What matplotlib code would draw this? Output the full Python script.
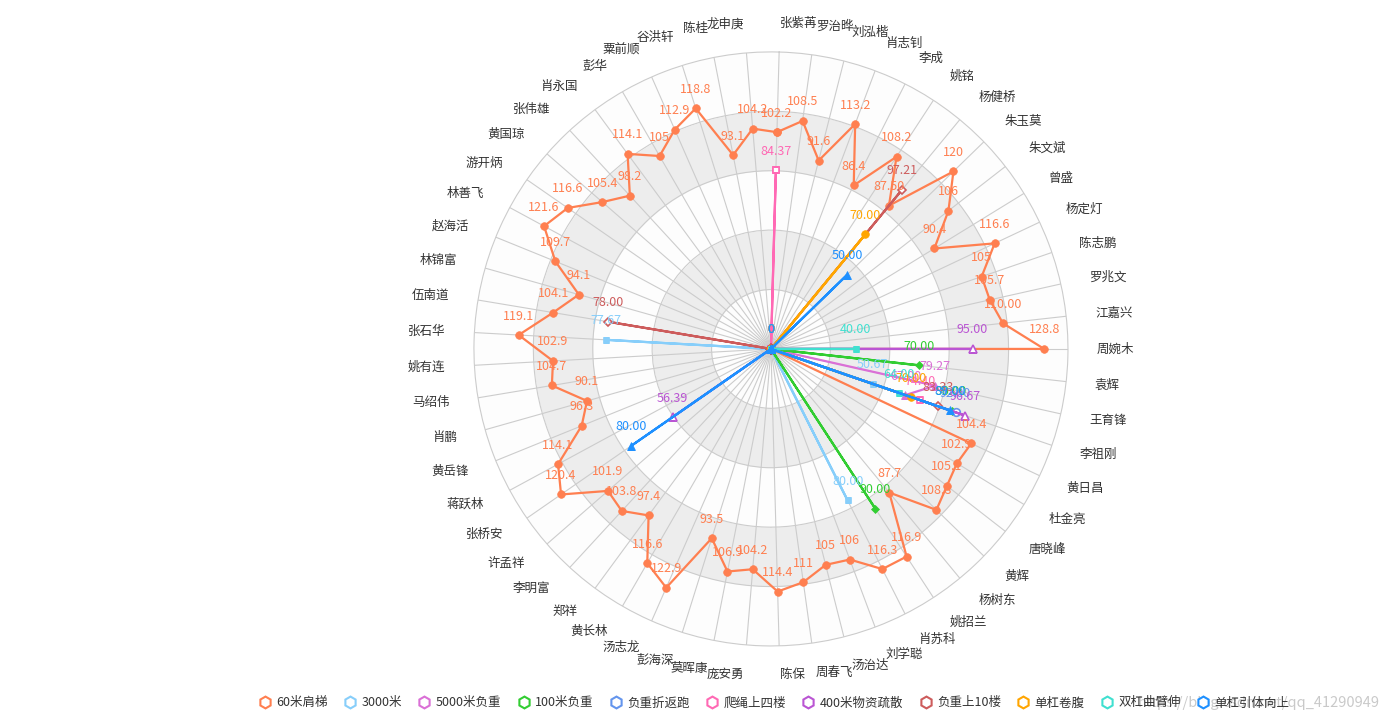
# plot.py
# 体能测试成绩雷达图（仿 ECharts 样式）

import numpy as np
import matplotlib
matplotlib.use('Agg')
import matplotlib.pyplot as plt
from matplotlib.lines import Line2D
plt.rcParams['font.family'] = ['Noto Sans CJK SC', 'DejaVu Sans']

# -----------------数据
names = ['张紫苒', '罗治晔', '刘泓楷', '肖志钊', '李成', '姚铭', '杨健桥', '朱玉莫', '朱文斌', '曾盛',
         '杨定灯', '陈志鹏', '罗兆文', '江嘉兴', '周婉木', '袁辉', '王育锋', '李祖刚', '黄日昌', '杜金亮',
         '唐晓峰', '黄辉', '杨树东', '姚招兰', '肖苏科', '刘学聪', '汤治达', '周春飞', '陈保', '庞安勇',
         '莫晖康', '彭海深', '汤志龙', '黄长林', '郑祥', '李明富', '许孟祥', '张桥安', '蒋跃林', '黄岳锋',
         '肖鹏', '马绍伟', '姚有连', '张石华', '伍南道', '林锦富', '赵海活', '林善飞', '游开炳', '黄国琼',
         '张伟雄', '肖永国', '彭华', '粟前顺', '谷洪轩', '陈桂', '龙申庚']

shoulder60 = ['102.2', '108.5', '91.6', '113.2', '86.4', '108.2', '87.50', '120', '106', '90.4',
              '116.6', '105', '105.7', '110.00', '128.8', '0', '0', '0', '104.4', '102.9',
              '105.1', '108.8', '87.7', '116.9', '116.3', '106', '105', '111', '114.4', '104.2',
              '106.9', '93.5', '122.9', '116.6', '97.4', '103.8', '101.9', '120.4', '114.1', '96.3',
              '90.1', '104.7', '102.9', '119.1', '104.1', '94.1', '109.7', '121.6', '116.6', '105.4',
              '98.2', '114.1', '105', '112.9', '118.8', '93.1', '104.2']
run3000 = {'李祖刚': '50.67', '肖苏科': '80.00', '张石华': '77.67'}
run5000 = {'王育锋': '79.27', '李祖刚': '67.00'}
dash100 = {'袁辉': '70.00', '李祖刚': '90.00', '姚招兰': '90.00'}
shuttle = {'李祖刚': '92.00'}
rope = {'张紫苒': '84.37', '李祖刚': '74.40'}
evac400 = {'周婉木': '95.00', '李祖刚': '96.67', '张桥安': '56.39'}
stairs10 = {'杨健桥': '97.21', '李祖刚': '83.33', '伍南道': '78.00'}
situp = {'杨健桥': '70.00', '李祖刚': '70.00'}
dips = {'周婉木': '40.00', '李祖刚': '64.00'}
pullup = {'朱玉莫': '50.00', '李祖刚': '89.00', '张桥安': '80.00'}

legend_names = ['60米肩梯', '3000米', '5000米负重', '100米负重', '负重折返跑', '爬绳上四楼',
                '400米物资疏散', '负重上10楼', '单杠卷腹', '双杠曲臂伸', '单杠引体向上']
colors = ['#ff7f50', '#87cefa', '#da70d6', '#32cd32', '#6495ed', '#ff69b4',
          '#ba55d3', '#cd5c5c', '#ffa500', '#40e0d0', '#1e90ff']
# ECharts2 默认符号循环：circle, rectangle, triangle, diamond, empty...
markers = [('o', True), ('s', True), ('^', True), ('D', True), ('o', False), ('s', False),
           ('^', False), ('D', False), ('o', True), ('s', True), ('^', True)]
msizes = {'o': 5.5, 's': 5, '^': 6, 'D': 4.2}

n = len(names)
rmax = 140


def spread(d):  # 稀疏字典 -> 完整字符串列表
    v = ['0'] * n
    for k, s in d.items():
        v[names.index(k)] = s
    return v


series = [shoulder60] + [spread(d) for d in
                         [run3000, run5000, dash100, shuttle, rope, evac400, stairs10, situp, dips, pullup]]

# -----------------绘图
fig = plt.figure(figsize=(13.85, 7.21), dpi=100, facecolor='white')
ax = fig.add_axes([0.3422, 0.1041, 0.4289, 0.8239], projection='polar')

theta = np.arange(n) * 2 * np.pi / n
ax.set_theta_direction(-1)
ax.set_theta_offset(theta[names.index('周婉木')])
ax.set_ylim(0, rmax)

# 分隔区域（内白外灰交替）
tt = np.linspace(0, 2 * np.pi, 500)
ring = np.linspace(0, rmax, 6)
for i in range(5):
    c = '#fdfdfd' if i % 2 == 0 else '#ededed'
    ax.fill_between(tt, ring[i], ring[i + 1], color=c, lw=0, zorder=0.5)

ax.set_xticks(theta)
ax.set_xticklabels([])
ax.set_yticks(ring[1:-1])
ax.set_yticklabels([])
ax.tick_params(length=0)
ax.grid(True, color='#cccccc', lw=0.8)
ax.spines['polar'].set_color('#cccccc')
ax.spines['polar'].set_linewidth(0.8)

# 指标名称
for k, name in enumerate(names):
    c = np.cos(ax.get_theta_offset() - theta[k])
    ha = 'left' if c > 0.01 else ('right' if c < -0.01 else 'center')
    ax.text(theta[k], 153.7, name, ha=ha, va='center', fontsize=9, color='#333333', clip_on=False)

tc = np.append(theta, theta[0])
for i, vals in enumerate(series):
    v = np.array([float(s) for s in vals])
    vc = np.append(v, v[0])
    m, filled = markers[i]
    ax.plot(tc, vc, color=colors[i], lw=1.6, zorder=3 + i * 0.01,
            marker=m, ms=msizes[m], markerfacecolor=colors[i] if filled else 'white',
            markeredgecolor=colors[i], markeredgewidth=1.2 if not filled else 0.5)

# 数据标签（放最上层）
for i, vals in enumerate(series):
    zero_done = False
    for k, s in enumerate(vals):
        if float(s) == 0:
            if zero_done:
                continue
            zero_done = True
        ax.annotate(s, (theta[k], float(s)), xytext=(0, 9), textcoords='offset points',
                    ha='center', va='bottom', fontsize=9, color=colors[i], zorder=10 + i * 0.01,
                    annotation_clip=False)

# 图例
handles = []
for i, name in enumerate(legend_names):
    handles.append(Line2D([], [], ls='none', marker='h', ms=8.5, markerfacecolor='white',
                          markeredgecolor=colors[i], markeredgewidth=1.5))
leg = fig.legend(handles, legend_names, loc='center', bbox_to_anchor=(0.559, 0.025), ncol=11,
                 frameon=False, fontsize=9, handlelength=1.0, handletextpad=0.4, columnspacing=1.3)
for t in leg.get_texts():
    t.set_color('#333333')

fig.text(1380 / 1385, 1 - 703 / 721, 'https://blog.csdn.net/qq_41290949', ha='right', va='center',
         fontsize=10.5, color='#c4c4c4', alpha=0.9)

fig.savefig('out.png', dpi=100, facecolor='white')
